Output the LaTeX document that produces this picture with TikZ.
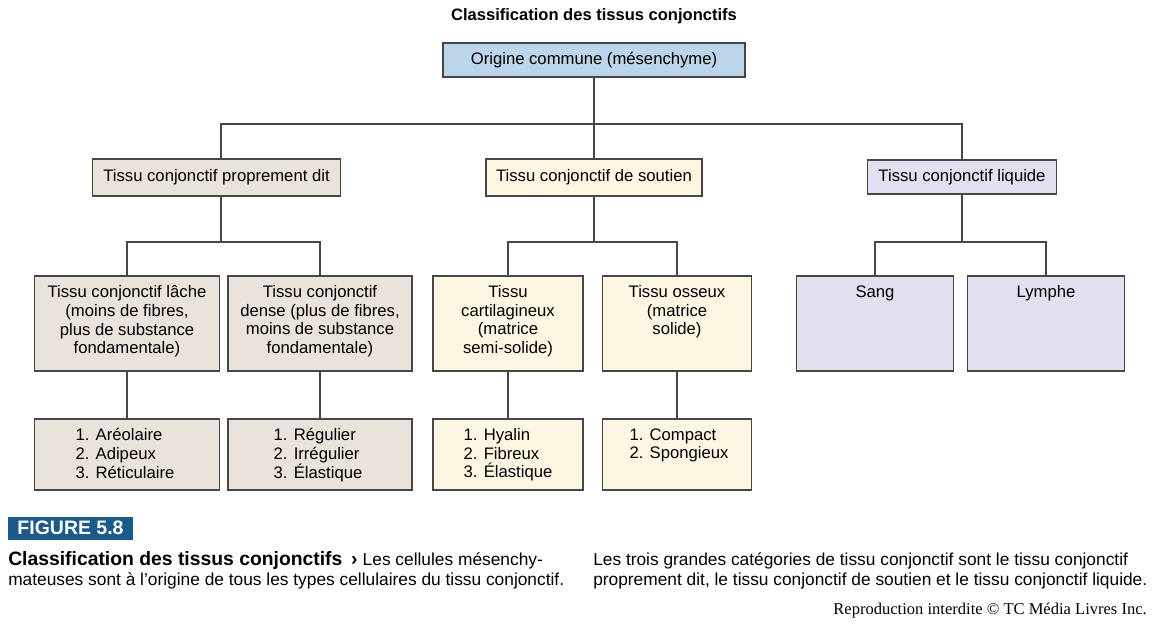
\documentclass[tikz,border=0pt]{standalone}
\usepackage{fontspec}
\setmainfont{Liberation Sans}
\newfontfamily\reprofont{Liberation Serif}
\usetikzlibrary{calc}
\definecolor{linec}{HTML}{474747}
\definecolor{cblue}{HTML}{BDD5EA}
\definecolor{cbeige}{HTML}{E9E3DB}
\definecolor{ccream}{HTML}{FDF6E3}
\definecolor{clav}{HTML}{E1E0EE}
\definecolor{figblue}{HTML}{1C5A8A}
\newcommand\pxl[1]{#1*0.75pt}
\begin{document}
\begin{tikzpicture}[x=0.75pt,y=-0.75pt,
  bx/.style={draw=linec,line width=1.1pt,inner sep=0pt,font=\fontsize{12.5}{14}\selectfont},
  conn/.style={draw=linec,line width=1.1pt},
  tthree/.style={inner sep=0pt,align=center,anchor=north,font=\fontsize{12.5}{14}\selectfont},
  tlist/.style={inner sep=0pt,align=left,anchor=north,font=\fontsize{12.5}{14}\selectfont}]
\fill[white] (0,0) rectangle (1155,625);
\useasboundingbox (0,0) rectangle (1155,625);

% title
\node[inner sep=0pt,anchor=base,font=\fontsize{12.4}{14}\selectfont\bfseries] (title) at (594,20) {Classification des tissus conjonctifs};

% level 1
\node[bx,fill=cblue,minimum width=\pxl{302},minimum height=\pxl{34}] (top) at (594,60) {Origine commune (mésenchyme)};

% level 2
\node[bx,fill=cbeige,minimum width=\pxl{248},minimum height=\pxl{37}] (P) at (216.5,177.5) {Tissu conjonctif proprement dit};
\node[bx,fill=ccream,minimum width=\pxl{216},minimum height=\pxl{37}] (S) at (594,177.5) {Tissu conjonctif de soutien};
\node[bx,fill=clav,minimum width=\pxl{189},minimum height=\pxl{34}] (L) at (962,177) {Tissu conjonctif liquide};

% level 3
\node[bx,fill=cbeige,minimum width=\pxl{185},minimum height=\pxl{95}] (lache) at (127,323.5) {};
\node[bx,fill=cbeige,minimum width=\pxl{184},minimum height=\pxl{95}] (dense) at (320,323.5) {};
\node[bx,fill=ccream,minimum width=\pxl{150},minimum height=\pxl{95}] (cart) at (508,323.5) {};
\node[bx,fill=ccream,minimum width=\pxl{149},minimum height=\pxl{95}] (oss) at (677,323.5) {};
\node[bx,fill=clav,minimum width=\pxl{157},minimum height=\pxl{95}] (sang) at (875,323.5) {};
\node[bx,fill=clav,minimum width=\pxl{157},minimum height=\pxl{95}] (lymphe) at (1046,323.5) {};

\node[tthree] (lache-t) at ($(lache.north)+(0,10)$) {Tissu conjonctif lâche\\(moins de fibres,\\plus de substance\\fondamentale)};
\node[tthree] (dense-t) at ($(dense.north)+(0,10)$) {Tissu conjonctif\\dense (plus de fibres,\\moins de substance\\fondamentale)};
\node[tthree] (cart-t) at ($(cart.north)+(0,10)$) {Tissu\\cartilagineux\\(matrice\\semi-solide)};
\node[tthree] (oss-t) at ($(oss.north)+(0,10)$) {Tissu osseux\\(matrice\\solide)};
\node[tthree] (sang-t) at ($(sang.north)+(0,10)$) {Sang};
\node[tthree] (lymphe-t) at ($(lymphe.north)+(0,10)$) {Lymphe};

% level 4
\node[bx,fill=cbeige,minimum width=\pxl{185},minimum height=\pxl{71}] (areo) at (127,454.5) {};
\node[bx,fill=cbeige,minimum width=\pxl{184},minimum height=\pxl{71}] (regu) at (320,454.5) {};
\node[bx,fill=ccream,minimum width=\pxl{150},minimum height=\pxl{71}] (hyal) at (508,454.5) {};
\node[bx,fill=ccream,minimum width=\pxl{149},minimum height=\pxl{71}] (comp) at (677,454.5) {};

\node[tlist] (areo-t) at ($(areo.north)+(-2,10)$) {1. Aréolaire\\2. Adipeux\\3. Réticulaire};
\node[tlist] (regu-t) at ($(regu.north)+(-2,10)$) {1. Régulier\\2. Irrégulier\\3. Élastique};
\node[tlist] (hyal-t) at ($(hyal.north)+(0,10)$) {1. Hyalin\\2. Fibreux\\3. Élastique};
\node[tlist] (comp-t) at ($(comp.north)+(2,10)$) {1. Compact\\2. Spongieux};

% connectors
\coordinate (f1) at (0,124);
\coordinate (f2) at (0,242);
\draw[conn] (top.south) -- (S.north);
\draw[conn] ([xshift=3.375pt]P.north) -- ([xshift=3.375pt]P.north |- f1) -- (L.north |- f1) -- (L.north);
\draw[conn] ([xshift=3.375pt]P.south) -- ([xshift=3.375pt]P.south |- f2);
\draw[conn] (lache.north) -- (lache.north |- f2) -- (dense.north |- f2) -- (dense.north);
\draw[conn] (S.south) -- (S.south |- f2);
\draw[conn] (cart.north) -- (cart.north |- f2) -- (oss.north |- f2) -- (oss.north);
\draw[conn] (L.south) -- (L.south |- f2);
\draw[conn] (sang.north) -- (sang.north |- f2) -- (lymphe.north |- f2) -- (lymphe.north);
\draw[conn] (lache.south) -- (areo.north);
\draw[conn] (dense.south) -- (regu.north);
\draw[conn] (cart.south) -- (hyal.north);
\draw[conn] (oss.south) -- (comp.north);

% caption
\node[fill=figblue,text=white,inner sep=0pt,minimum width=\pxl{125},minimum height=\pxl{23},font=\fontsize{14.6}{17}\selectfont\bfseries] (fig) at (70.5,528) {FIGURE 5.8};
\node[inner sep=0pt,anchor=base west,font=\fontsize{13}{15}\selectfont] (cap1) at (8,565) {{\fontsize{14.5}{16}\selectfont\bfseries Classification des tissus conjonctifs\hspace{0.45em}›}\hspace{0.3em}Les cellules mésenchy-};
\node[inner sep=0pt,anchor=base west,font=\fontsize{13}{15}\selectfont] (cap2) at (8,585) {mateuses sont à l’origine de tous les types cellulaires du tissu conjonctif.};
\node[inner sep=0pt,anchor=base west,font=\fontsize{13}{15}\selectfont] (cap3) at (593,565) {Les trois grandes catégories de tissu conjonctif sont le tissu conjonctif};
\node[inner sep=0pt,anchor=base west,font=\fontsize{13}{15}\selectfont] (cap4) at (593,585) {proprement dit, le tissu conjonctif de soutien et le tissu conjonctif liquide.};
\node[inner sep=0pt,anchor=base east,font=\fontsize{12.4}{14}\reprofont] (repro) at (1147,614) {Reproduction interdite © TC Média Livres Inc.};
\end{tikzpicture}
\end{document}
